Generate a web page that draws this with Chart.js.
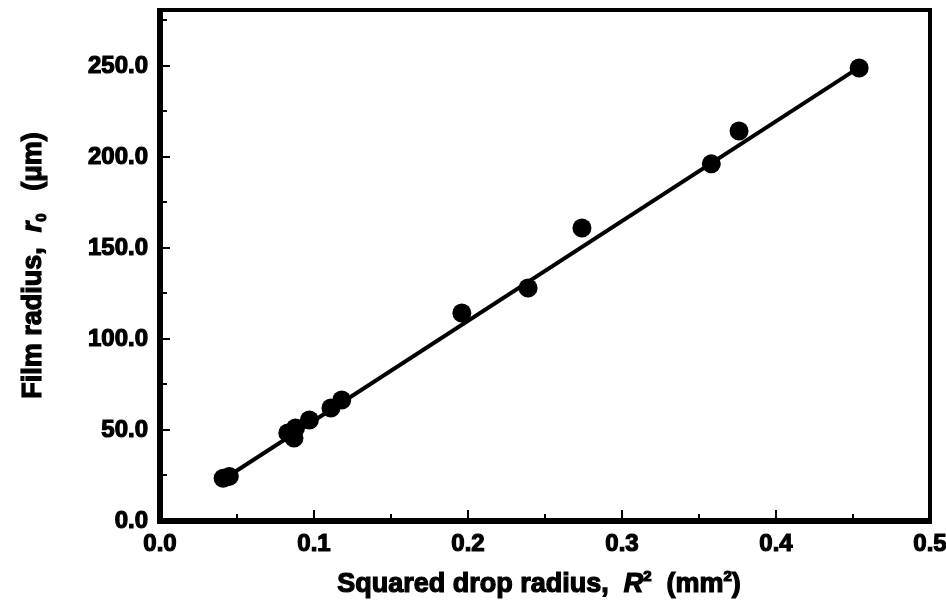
<!DOCTYPE html>
<html>
<head>
<meta charset="utf-8">
<script src="https://cdn.jsdelivr.net/npm/chart.js@4.4.1/dist/chart.umd.min.js"></script>
<style>
    html, body { margin: 0; padding: 0; background: #fff; }
    canvas { display: block; }
</style>
</head>
<body>
<canvas id="chartFilm" width="946" height="608"></canvas>
<script>
// squared drop radius R^2 (mm^2) vs film radius r0 (um)
var dropR2 = [0.041, 0.045, 0.083, 0.087, 0.088, 0.097, 0.111, 0.118, 0.196, 0.239, 0.274, 0.358, 0.376, 0.454];
var filmR = [23.5, 24.5, 48.4, 45.6, 51.1, 55.5, 62.1, 66.5, 114.3, 128.0, 161.0, 196.2, 214.3, 248.9];

// fitted straight line (end points)
var fitX = [0.0435, 0.4535];
var fitY = [24.2, 248.9];

// axis ticks
var xMajor = [0, 0.1, 0.2, 0.3, 0.4, 0.5];
var xLabels = ['0.0', '0.1', '0.2', '0.3', '0.4', '0.5'];
var xMinor = [0.05, 0.15, 0.25, 0.35, 0.45];
var yMajor = [0, 50, 100, 150, 200, 250];
var yLabels = ['0.0', '50.0', '100.0', '150.0', '200.0', '250.0'];
var yMinor = [25, 75, 125, 175, 225, 275];

var FONT = '"Liberation Sans", Arial, sans-serif';

var points = [];
for (var i = 0; i < dropR2.length; i++) {
    points.push({ x: dropR2[i], y: filmR[i] });
}
var line = [];
for (var j = 0; j < fitX.length; j++) {
    line.push({ x: fitX[j], y: fitY[j] });
}

// draws a row of text pieces centred on (x, y), a bit heavier than plain bold
function drawParts(ctx, parts, x, y) {
    var total = 0;
    parts.forEach(function (p) {
        ctx.font = p.f;
        total += ctx.measureText(p.t).width;
    });
    var cx = x - total / 2;
    ctx.lineWidth = 1.2;
    ctx.strokeStyle = '#000';
    parts.forEach(function (p) {
        ctx.font = p.f;
        ctx.fillText(p.t, cx, y + (p.dy || 0));
        ctx.strokeText(p.t, cx, y + (p.dy || 0));
        cx += ctx.measureText(p.t).width;
    });
}

// no extra room for labels hanging past the plot edges
function noPad(scale) {
    scale.paddingTop = 0;
    scale.paddingRight = 0;
    scale.paddingLeft = 0;
    scale.paddingBottom = 0;
}

var framePlugin = {
    id: 'frame',
    afterDraw: function (chart) {
        var ctx = chart.ctx;
        var xs = chart.scales.x, ys = chart.scales.y;
        var L = Math.round(xs.getPixelForValue(0));
        var R = Math.round(xs.getPixelForValue(0.5));
        var T = Math.round(ys.getPixelForValue(281));
        var B = Math.round(ys.getPixelForValue(0));
        ctx.save();
        ctx.fillStyle = '#000';

        // box round the plot, left and bottom sides heavier
        ctx.fillRect(L - 3, T - 2, R - L + 5, 4);
        ctx.fillRect(R - 2, T - 2, 4, B - T + 5);
        ctx.fillRect(L - 3, T - 2, 6, B - T + 5);
        ctx.fillRect(L - 3, B - 3, R - L + 5, 6);

        // inward tick marks
        yMajor.forEach(function (v) {
            var py = Math.round(ys.getPixelForValue(v));
            ctx.fillRect(L, py - 1, 10, 2);
        });
        yMinor.forEach(function (v) {
            var py = Math.round(ys.getPixelForValue(v));
            ctx.fillRect(L, py - 1, 7, 2);
        });
        xMajor.forEach(function (v) {
            var px = Math.round(xs.getPixelForValue(v));
            ctx.fillRect(px - 1, B - 11, 2, 11);
        });
        xMinor.forEach(function (v) {
            var px = Math.round(xs.getPixelForValue(v));
            ctx.fillRect(px - 1, B - 7, 2, 7);
        });

        // axis titles
        ctx.textAlign = 'left';
        ctx.textBaseline = 'alphabetic';
        var big = 'bold 27px ' + FONT;
        var ital = 'italic bold 27px ' + FONT;
        var small = 'bold 15px ' + FONT;
        drawParts(ctx, [
            { t: 'Squared drop radius,  ', f: big },
            { t: 'R', f: ital },
            { t: '2', f: small, dy: -11 },
            { t: '  (mm', f: big },
            { t: '2', f: small, dy: -11 },
            { t: ')', f: big }
        ], (L + R) / 2 - 6, 592);

        ctx.translate(41, (T + B) / 2);
        ctx.rotate(-Math.PI / 2);
        drawParts(ctx, [
            { t: 'Film radius,  ', f: big },
            { t: 'r', f: ital },
            { t: '0', f: small, dy: 5 },
            { t: '   (\u03bcm)', f: big }
        ], 0, 0);
        ctx.restore();
    }
};

var tickFont = { family: FONT, size: 24, weight: 'bold' };

var ctx = document.getElementById('chartFilm').getContext('2d');
var chartFilm = new Chart(ctx, {
    type: 'scatter',
    data: {
        datasets: [{
            label: 'fit',
            type: 'line',
            data: line,
            borderColor: '#000',
            borderWidth: 4,
            pointRadius: 0,
            fill: false,
            order: 2
        }, {
            label: 'measured',
            data: points,
            backgroundColor: '#000',
            borderColor: '#000',
            borderWidth: 0,
            pointRadius: 9.5,
            order: 1
        }]
    },
    options: {
        responsive: false,
        animation: false,
        layout: { padding: { top: 9, right: 16, left: 0, bottom: 0 } },
        plugins: {
            legend: { display: false },
            tooltip: { enabled: false }
        },
        scales: {
            x: {
                type: 'linear',
                min: 0,
                max: 0.5,
                afterFit: function (scale) {
                    scale.height = 87;
                    noPad(scale);
                },
                afterBuildTicks: function (scale) {
                    scale.ticks = xMajor.map(function (v) { return { value: v }; });
                },
                grid: { display: false, drawTicks: false },
                border: { display: false },
                ticks: {
                    padding: 9,
                    color: '#000',
                    textStrokeColor: '#000',
                    textStrokeWidth: 1.2,
                    font: tickFont,
                    maxRotation: 0,
                    callback: function (v) {
                        var k = xMajor.indexOf(v);
                        return k >= 0 ? xLabels[k] : '';
                    }
                }
            },
            y: {
                type: 'linear',
                min: 0,
                max: 281,
                afterFit: function (scale) {
                    scale.width = 160;
                    noPad(scale);
                },
                afterBuildTicks: function (scale) {
                    scale.ticks = yMajor.map(function (v) { return { value: v }; });
                },
                grid: { display: false, drawTicks: false },
                border: { display: false },
                ticks: {
                    padding: 12,
                    color: '#000',
                    textStrokeColor: '#000',
                    textStrokeWidth: 1.2,
                    font: tickFont,
                    callback: function (v) {
                        var k = yMajor.indexOf(v);
                        return k >= 0 ? yLabels[k] : '';
                    }
                }
            }
        }
    },
    plugins: [framePlugin]
});
</script>
</body>
</html>
